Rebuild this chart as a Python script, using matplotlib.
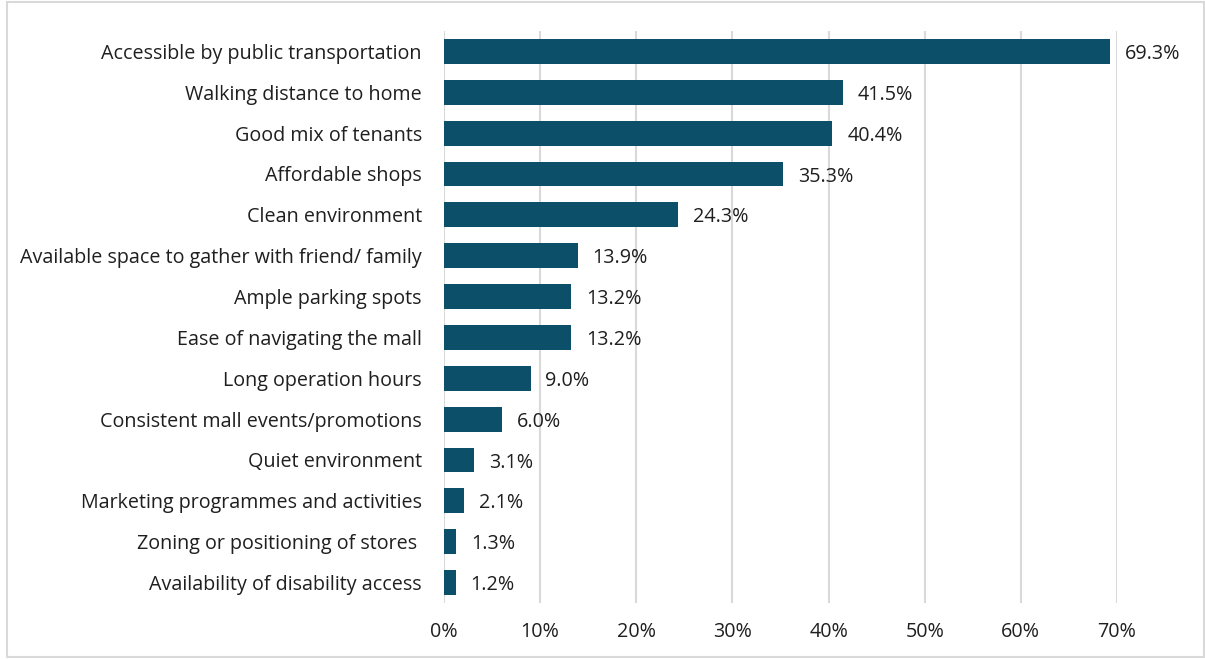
import matplotlib.pyplot as plt
from matplotlib.patches import Rectangle
from matplotlib.ticker import FuncFormatter

categories = [
    "Accessible by public transportation",
    "Walking distance to home",
    "Good mix of tenants",
    "Affordable shops",
    "Clean environment",
    "Available space to gather with friend/ family",
    "Ample parking spots",
    "Ease of navigating the mall",
    "Long operation hours",
    "Consistent mall events/promotions",
    "Quiet environment",
    "Marketing programmes and activities",
    "Zoning or positioning of stores ",
    "Availability of disability access",
]
values = [69.3, 41.5, 40.4, 35.3, 24.3, 13.9, 13.2, 13.2, 9.0, 6.0, 3.1, 2.1, 1.3, 1.2]
xticks = [0, 10, 20, 30, 40, 50, 60, 70]

plt.rcParams['font.family'] = ['Open Sans', 'DejaVu Sans']
bar_color = "#0B4F68"
grid_color = "#D9D9D9"
text_color = "#1F1F1F"
fsize = 14.2

fig = plt.figure(figsize=(12.05, 6.59), dpi=100)
ax = fig.add_axes([444 / 1205, 1 - 603 / 659, 673 / 1205, 572 / 659])

ypos = list(range(len(categories)))
ax.barh(ypos, values, height=0.61, color=bar_color, zorder=3)
for y, v in zip(ypos, values):
    ax.text(v + 1.55, y, f"{v:.1f}%", va="center_baseline", ha="left",
            fontsize=fsize, color=text_color)

ax.set_yticks(ypos)
ax.set_yticklabels(categories, fontsize=fsize, color=text_color)
ax.set_ylim(len(categories) - 0.5, -0.5)
ax.set_xlim(0, 70)
ax.set_xticks(xticks)
ax.xaxis.set_major_formatter(FuncFormatter(lambda x, _: f"{x:.0f}%"))
ax.tick_params(axis="x", labelsize=fsize, colors=text_color, length=0, pad=14)
ax.tick_params(axis="y", length=0, pad=16)
ax.grid(axis="x", color=grid_color, linewidth=1.5, zorder=0)
for s in ax.spines.values():
    s.set_visible(False)

# light frame round the whole chart
fig.patches.append(Rectangle((7 / 1205, 2 / 659), 1197 / 1205, 655 / 659,
                             transform=fig.transFigure, fill=False,
                             edgecolor=grid_color, linewidth=1.5))

fig.savefig("out.png", dpi=100)
